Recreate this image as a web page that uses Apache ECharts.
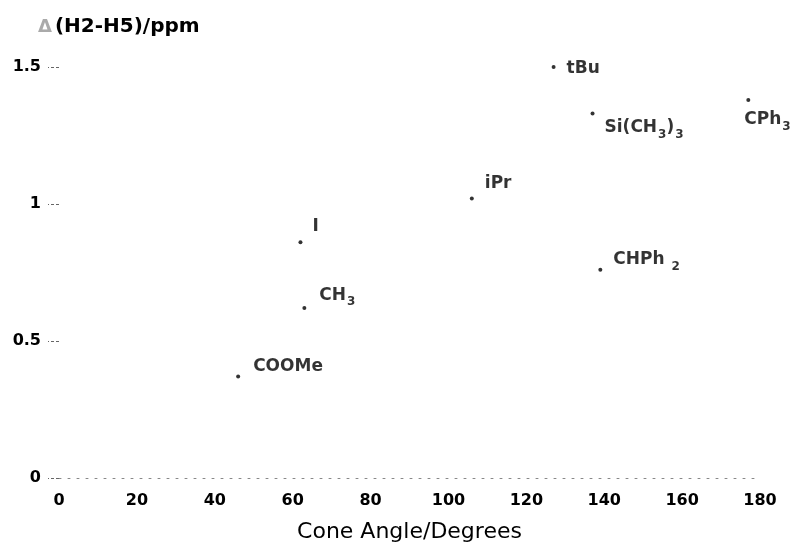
<!DOCTYPE html>
<html>
<head>
<meta charset="utf-8">
<script src="https://cdn.jsdelivr.net/npm/echarts@6/dist/echarts.min.js"></script>
<style>
  html, body { margin: 0; padding: 0; background: #fff; }
  #chart { width: 796px; height: 548px; }
</style>
</head>
<body>
<div id="chart"></div>
<script>
  // substituents, cone angle (deg) and Δ(H2-H5) shift (ppm)
  const names = ['tBu', 'Si(CH3)3', 'CPh3', 'iPr', 'I', 'CH3', 'COOMe', 'CHPh2']
  const coneAngle = [127, 137, 177, 106, 62, 63, 46, 139]
  const deltaShift = [1.5, 1.33, 1.38, 1.02, 0.86, 0.62, 0.37, 0.76]
  const xTicks = [0, 20, 40, 60, 80, 100, 120, 140, 160, 180]
  const yTicks = [0, 0.5, 1, 1.5]

  // rich-text labels with subscripts
  const labelText = {
    'tBu': '{a|tBu}',
    'Si(CH3)3': '{a|Si(CH}{s|3}{a|)}{s|3}',
    'CPh3': '{a|CPh}{s|3}',
    'iPr': '{a|iPr}',
    'I': '{a|I}',
    'CH3': '{a|CH}{s|3}',
    'COOMe': '{a|COOMe}',
    'CHPh2': '{a|CHPh }{s|2}'
  }
  // where each label sits relative to its point (px)
  const labelOffset = {
    'tBu': [13, 2],
    'Si(CH3)3': [12, 14],
    'CPh3': [-4, 20],
    'iPr': [13, -15],
    'I': [12, -16],
    'CH3': [15, -13],
    'COOMe': [15, -10],
    'CHPh2': [13, -10]
  }

  let chart = echarts.init(document.getElementById('chart'))
  let font = '"DejaVu Sans", "Liberation Sans", Arial, sans-serif'

  let points = names.map((n, i) => ({
    name: n,
    value: [coneAngle[i], deltaShift[i]],
    label: {
      show: true,
      position: 'inside',
      align: 'left',
      verticalAlign: 'middle',
      offset: labelOffset[n],
      formatter: labelText[n],
      color: '#000',
      textBorderWidth: 0,
      rich: {
        a: { fontFamily: font, fontSize: 17, fontWeight: 'bold', color: '#000', lineHeight: 22, verticalAlign: 'middle' },
        s: { fontFamily: font, fontSize: 12, fontWeight: 'bold', color: '#000', padding: [14, 0, 0, 1], verticalAlign: 'middle' }
      }
    }
  }))

  let option = {
    animation: false,
    backgroundColor: '#fff',
    textStyle: { fontFamily: font },
    title: {
      text: '{d|Δ}{t|(H2-H5)/ppm}',
      left: 33,
      top: 12,
      textStyle: {
        rich: {
          d: { fontFamily: font, fontSize: 18, color: '#aaa', padding: [0, 3, 0, 0] },
          t: { fontFamily: font, fontSize: 20, fontWeight: 'bold', color: '#000' }
        }
      }
    },
    grid: { left: 59, right: 36, top: 67, bottom: 61 },
    xAxis: {
      type: 'value',
      min: xTicks[0],
      max: xTicks[xTicks.length - 1],
      interval: 20,
      name: 'Cone Angle/Degrees',
      nameLocation: 'middle',
      nameGap: 43,
      nameTextStyle: { fontFamily: font, fontSize: 22, color: '#000' },
      axisLine: { show: true, lineStyle: { color: '#888', type: [2, 7], width: 1 } },
      axisTick: { show: false },
      splitLine: { show: false },
      axisLabel: { fontSize: 16, fontWeight: 'bold', color: '#000', margin: 15 }
    },
    yAxis: {
      type: 'value',
      min: yTicks[0],
      max: yTicks[yTicks.length - 1],
      interval: 0.5,
      axisLine: { show: false },
      axisTick: { show: true, inside: false, length: 11, lineStyle: { color: '#666', type: [3, 2] } },
      splitLine: { show: false },
      axisLabel: { fontSize: 16, fontWeight: 'bold', color: '#000', margin: 18 }
    },
    series: [{
      type: 'scatter',
      symbol: 'circle',
      symbolSize: 4,
      itemStyle: { color: '#000' },
      data: points
    }]
  }
  chart.setOption(option)
</script>
</body>
</html>
